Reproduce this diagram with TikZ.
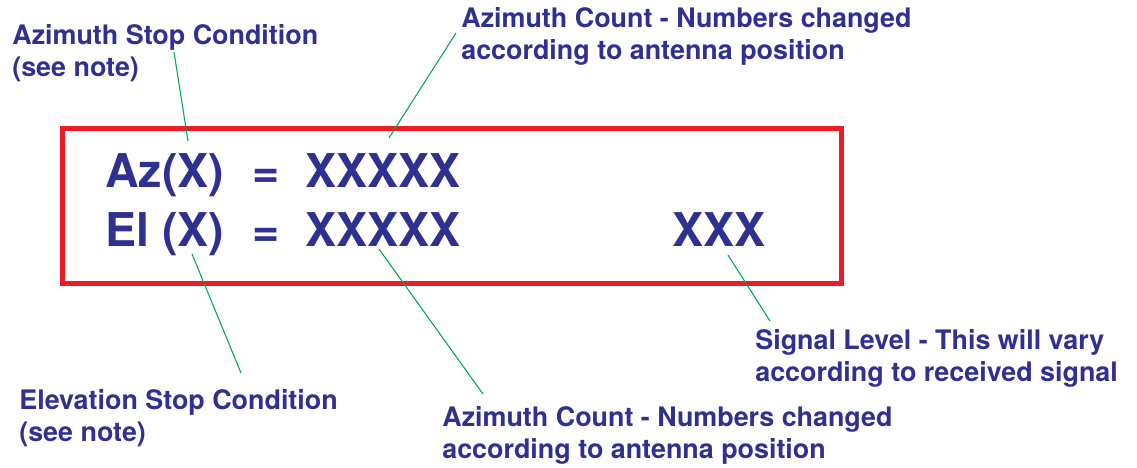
\documentclass[tikz,border=0pt]{standalone}
\usepackage{fontspec}
\setmainfont{TeX Gyre Heros}
\usetikzlibrary{positioning}
\definecolor{navy}{HTML}{2E3192}
\definecolor{boxred}{HTML}{ED1C24}
\definecolor{leadgreen}{HTML}{00A651}

\tikzset{
  note/.style={font=\fontsize{15.3}{18.2}\selectfont\bfseries, text=navy,
    align=left, anchor=base west, inner sep=0pt},
  readout/.style={font=\fontsize{26.5}{30}\selectfont\bfseries, text=navy,
    anchor=base west, inner sep=0pt},
  leader/.style={leadgreen, line width=0.6pt},
}

\begin{document}
\begin{tikzpicture}[x=0.02cm, y=-0.02cm]
  \useasboundingbox (0,0) rectangle (1137,467);

  % Display window
  \draw[boxred, line width=0.1cm] (62.5,128) rectangle (841,283.5);

  % Readout
  \node[readout] (az) at (105,187) {Az(X)};
  \node[readout] (el) at (105,246) {El (X)};
  \node[readout] (azeq) at (252,187) {=};
  \node[readout] (eleq) at (252,246) {=};
  \node[readout] (azval) at (305,187) {XXXXX};
  \node[readout] (elval) at (305,246) {XXXXX};
  \node[readout] (sigval) at (672,246) {XXX};

  % Callout texts (placed by the baseline of their last line)
  \node[note] (azstop) at (12,76) {Azimuth Stop Condition\\(see note)};
  \node[note] (azcount) at (461,59) {Azimuth Count - Numbers changed\\according to antenna position};
  \node[note] (sig) at (755,381) {Signal Level - This will vary\\according to received signal};
  \node[note] (elstop) at (19,441) {Elevation Stop Condition\\(see note)};
  \node[note] (elcount) at (442,458) {Azimuth Count - Numbers changed\\according to antenna position};

  % Leader ends
  \coordinate (azstop-a) at (174,52);   \coordinate (azstop-b) at (188,141);
  \coordinate (azcount-a) at (456,33);  \coordinate (azcount-b) at (389,138);
  \coordinate (elstop-a) at (241,373);  \coordinate (elstop-b) at (192,254);
  \coordinate (elcount-a) at (483,394); \coordinate (elcount-b) at (379,249);
  \coordinate (sig-a) at (770,321);     \coordinate (sig-b) at (728,255);

  \foreach \n in {azstop, azcount, elstop, elcount, sig}
    \draw[leader] (\n-a) -- (\n-b);
\end{tikzpicture}
\end{document}
